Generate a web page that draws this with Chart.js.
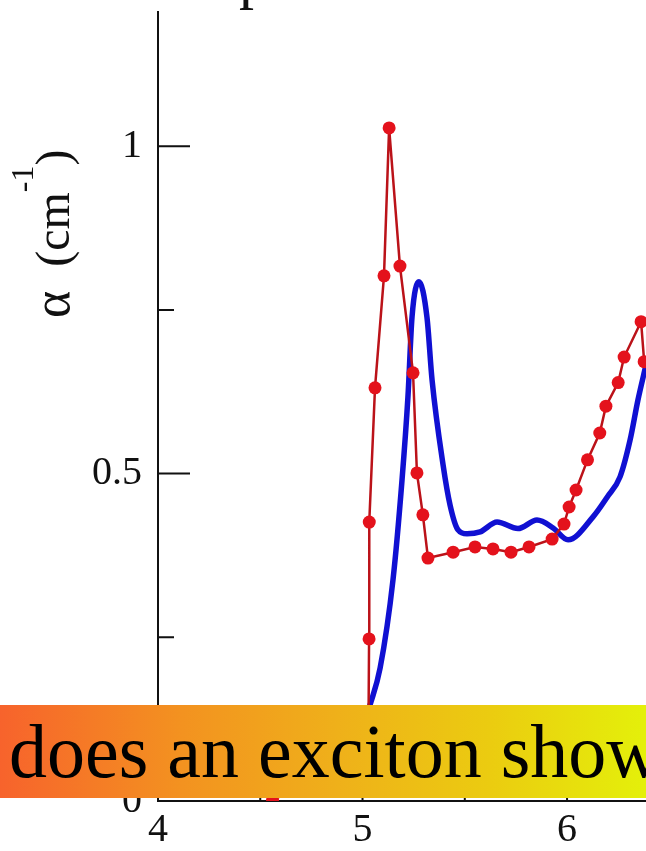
<!DOCTYPE html>
<html>
<head>
<meta charset="utf-8">
<script src="https://cdn.jsdelivr.net/npm/chart.js@4"></script>
<style>
  body { margin: 0; background: #fff; overflow: hidden; }
  #wrap { position: relative; width: 646px; height: 851px; }
  #banner {
    position: absolute; left: 0; top: 705px; width: 646px; height: 93px;
    background: linear-gradient(to right, #f7632c 0%, #f39220 28%, #efb01a 52%, #ebcc10 76%, #e4f00a 100%);
    font: 76px "Liberation Serif", serif; color: #000;
    line-height: 93px; white-space: nowrap; overflow: hidden;
    padding-left: 9px; box-sizing: border-box;
  }
</style>
</head>
<body>
<div id="wrap">
  <canvas id="chart" width="646" height="851"></canvas>
  <div id="banner">does an exciton show</div>
</div>
<script>
// photon energy (eV) and absorption for the two spectra
const redX = [4.56, 5.028, 5.032, 5.033, 5.061, 5.105, 5.13, 5.183, 5.247, 5.266, 5.295, 5.32,
              5.443, 5.55, 5.638, 5.726, 5.814, 5.927, 5.985, 6.01, 6.044, 6.10, 6.16, 6.19,
              6.25, 6.279, 6.362, 6.377];
const redY = [0.002, 0.06, 0.2475, 0.426, 0.631, 0.802, 1.028, 0.817, 0.654, 0.501, 0.437, 0.371,
              0.380, 0.388, 0.385, 0.380, 0.388, 0.400, 0.423, 0.449, 0.475, 0.521, 0.562, 0.603,
              0.639, 0.678, 0.732, 0.671];

const blueX = [4.80, 4.90, 4.99, 5.037, 5.086, 5.149, 5.193, 5.222, 5.242, 5.276, 5.315, 5.34,
               5.394, 5.428, 5.467, 5.511, 5.575, 5.658, 5.76, 5.853, 5.932, 6.005, 6.127,
               6.196, 6.259, 6.308, 6.347, 6.386];
const blueY = [0.02, 0.05, 0.10, 0.147, 0.203, 0.338, 0.490, 0.617, 0.739, 0.793, 0.739, 0.643,
               0.513, 0.452, 0.414, 0.408, 0.411, 0.426, 0.416, 0.429, 0.417, 0.399, 0.434,
               0.464, 0.495, 0.551, 0.613, 0.666];

const xMajorTicks = [5, 6];
const xMinorTicks = [4.5, 5.5];
const yMajorTicks = [0.5, 1];
const yMinorTicks = [0.25, 0.75];

const serif = '"Liberation Serif", "Times New Roman", serif';

// inward tick marks, y axis title and the bit of heading above the frame
const axisDecor = {
    id: "axisDecor",
    beforeDatasetsDraw(chart) {
        const { ctx, chartArea, scales } = chart;
        ctx.save();
        ctx.strokeStyle = "#111";
        ctx.lineWidth = 2;
        ctx.beginPath();
        yMajorTicks.forEach(v => {
            const y = scales.y.getPixelForValue(v);
            ctx.moveTo(chartArea.left, y); ctx.lineTo(chartArea.left + 32, y);
        });
        yMinorTicks.forEach(v => {
            const y = scales.y.getPixelForValue(v);
            ctx.moveTo(chartArea.left, y); ctx.lineTo(chartArea.left + 16, y);
        });
        xMajorTicks.forEach(v => {
            const x = scales.x.getPixelForValue(v);
            ctx.moveTo(x, chartArea.bottom); ctx.lineTo(x, chartArea.bottom - 32);
        });
        xMinorTicks.forEach(v => {
            const x = scales.x.getPixelForValue(v);
            ctx.moveTo(x, chartArea.bottom); ctx.lineTo(x, chartArea.bottom - 16);
        });
        ctx.stroke();
        ctx.restore();
    },
    afterDraw(chart) {
        const ctx = chart.ctx;
        ctx.save();
        ctx.fillStyle = "#111";
        ctx.textBaseline = "alphabetic";

        ctx.font = "60px " + serif;
        ctx.fillText("p", 239, -3);

        ctx.translate(69, 318);
        ctx.rotate(-Math.PI / 2);
        let x = 0;
        ctx.font = "52px " + serif;
        ctx.fillText("\u03b1", x, 0);
        x += ctx.measureText("\u03b1").width + 24;
        ctx.font = "48px " + serif;
        ctx.fillText("(cm", x, 0);
        x += ctx.measureText("(cm").width;
        ctx.font = "32px " + serif;
        ctx.fillText("-1", x, -36);
        x += ctx.measureText("-1").width;
        ctx.font = "48px " + serif;
        ctx.fillText(")", x, 0);
        ctx.restore();
    }
};

const toPoints = (xs, ys) => xs.map((x, i) => ({ x, y: ys[i] }));

// keep the frame where the layout puts it: no extra room for tick labels
const fixSize = (s, w, h) => {
    if (w !== null) s.width = w;
    if (h !== null) s.height = h;
    s.paddingTop = 0; s.paddingBottom = 0; s.paddingLeft = 0; s.paddingRight = 0;
};

new Chart(document.getElementById("chart"), {
    type: "scatter",
    data: {
        datasets: [
            {
                data: toPoints(redX, redY),
                showLine: true,
                borderColor: "#bb1219",
                borderWidth: 2.5,
                pointRadius: 6.5,
                pointBackgroundColor: "#e4121c",
                pointBorderWidth: 0,
                tension: 0
            },
            {
                data: toPoints(blueX, blueY),
                showLine: true,
                borderColor: "#1010d2",
                borderWidth: 5.5,
                pointRadius: 0,
                cubicInterpolationMode: "monotone"
            }
        ]
    },
    options: {
        responsive: false,
        animation: false,
        events: [],
        layout: { autoPadding: false, padding: { top: 12, left: 0, right: 0, bottom: 0 } },
        plugins: { legend: { display: false }, tooltip: { enabled: false } },
        scales: {
            x: {
                type: "linear",
                min: 4,
                max: 6.386,
                grid: { display: false, drawTicks: false },
                border: { display: true, color: "#111", width: 2 },
                ticks: {
                    stepSize: 1,
                    includeBounds: false,
                    padding: 5,
                    color: "#111",
                    font: { family: serif, size: 40 },
                    callback: v => String(v)
                },
                afterFit: s => fixSize(s, null, 50)
            },
            y: {
                min: 0,
                max: 1.205,
                grid: { display: false, drawTicks: false },
                border: { display: true, color: "#111", width: 2 },
                ticks: {
                    stepSize: 0.5,
                    includeBounds: false,
                    padding: 16,
                    color: "#111",
                    font: { family: serif, size: 40 },
                    callback: v => String(v)
                },
                afterFit: s => fixSize(s, 158, null)
            }
        }
    },
    plugins: [axisDecor]
});
</script>
</body>
</html>
